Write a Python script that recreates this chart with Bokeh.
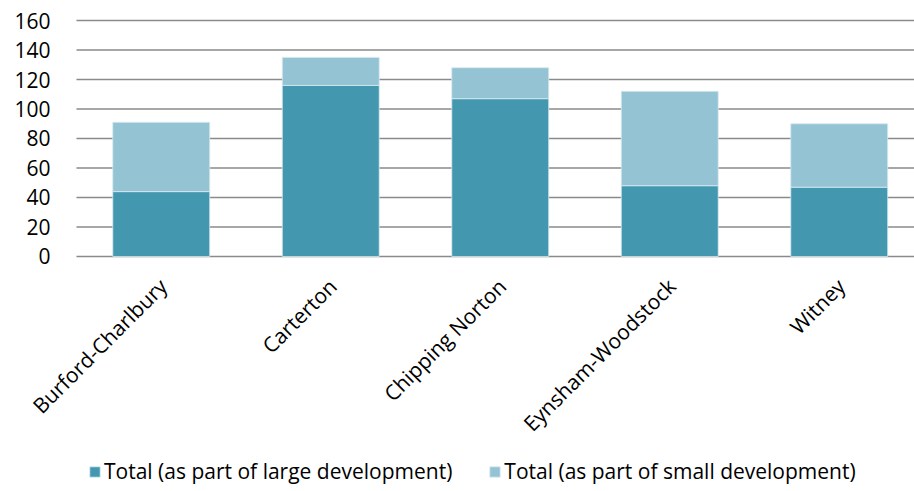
import math
from bokeh.plotting import figure
from bokeh.models import Range1d, Legend, LegendItem, ColumnDataSource
from bokeh.core.properties import value
from bokeh.embed import file_html
from bokeh.resources import INLINE

categories = ["Burford-Charlbury", "Carterton", "Chipping Norton", "Eynsham-Woodstock", "Witney"]
large_dev = [44, 116, 107, 48, 47]
small_dev = [47, 19, 21, 64, 43]
y_ticks = [0, 20, 40, 60, 80, 100, 120, 140, 160]
y_tick_labels = [str(t) for t in y_ticks]
series_names = ["Total (as part of large development)", "Total (as part of small development)"]
colors = ["#4398B0", "#94C3D4"]

X_END = 4.944
xpos = [i + 0.5 for i in range(len(categories))]
source = ColumnDataSource(dict(x=xpos, large=large_dev, small=small_dev))
label_src = ColumnDataSource(dict(x=xpos, y=[0] * len(categories), text=categories))
tick_src = ColumnDataSource(dict(x0=[0] * len(y_ticks), x1=[X_END] * len(y_ticks),
                                 y=y_ticks, text=y_tick_labels))

# the frame covers the whole canvas so that axis texts and legend are drawn inside it
p = figure(frame_width=914, frame_height=488, output_backend="svg", toolbar_location=None,
           x_range=Range1d(-0.4484, X_END), y_range=Range1d(-157.29, 173.56),
           min_border_left=0, min_border_top=0, min_border_right=0, min_border_bottom=0)
p.outline_line_color = None
p.background_fill_color = "white"
p.axis.visible = False
p.grid.visible = False

# horizontal gridlines at the value ticks
p.segment(x0="x0", x1="x1", y0="y", y1="y", source=tick_src,
          line_color="#8a8a8a", line_width=1.6)

rs = p.vbar_stack(["large", "small"], x="x", width=0.572, source=source,
                  color=colors, line_color="#d9eaf0", line_width=0.8)

# value tick labels
p.text(x="x0", y="y", text="text", source=tick_src, text_align="right",
       text_baseline="middle", x_offset=-26, text_font=value("Open Sans"),
       text_font_size="21px", text_color="#000000")

# category labels, rotated 45 degrees
p.text(x="x", y="y", text="text", source=label_src, angle=math.pi / 4,
       text_align="right", text_baseline="top", x_offset=-8, y_offset=16,
       text_font=value("Open Sans"), text_font_size="21px", text_color="#000000")

legend = Legend(items=[LegendItem(label=series_names[0], renderers=[rs[0]]),
                       LegendItem(label=series_names[1], renderers=[rs[1]])],
                orientation="horizontal", location=(88, 3),
                label_text_font="Open Sans", label_text_font_size="21px",
                label_text_color="#000000",
                glyph_width=13, glyph_height=13, spacing=36, label_standoff=3,
                border_line_color=None, background_fill_alpha=0, margin=0, padding=0)
p.add_layout(legend, "center")

open("out.html", "w").write(file_html(p, INLINE))
